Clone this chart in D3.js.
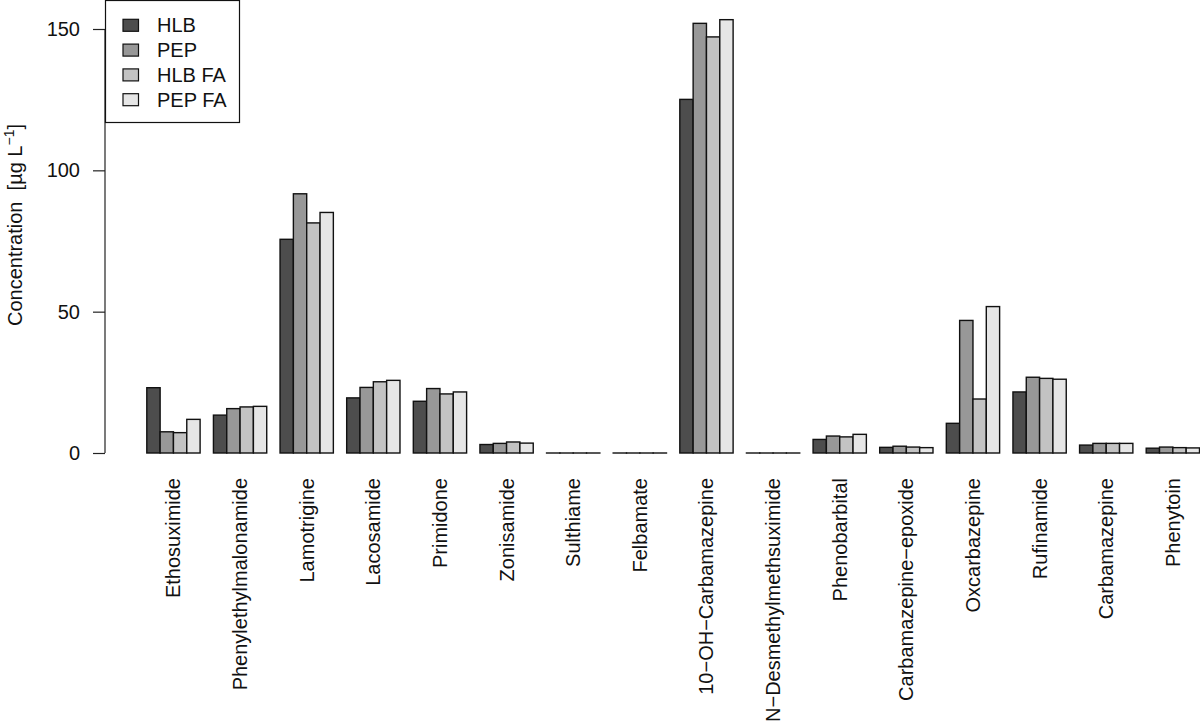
<!DOCTYPE html>
<html>
<head>
<meta charset="utf-8">
<script src="https://cdn.jsdelivr.net/npm/d3@7"></script>
<style>
  body { margin: 0; background: #fff; }
  svg { display: block; font-family: "Liberation Sans", Arial, Helvetica, sans-serif; }
</style>
</head>
<body>
<div id="container"></div>
<script>
/* DATA */
const drugs = ["Ethosuximide", "Phenylethylmalonamide", "Lamotrigine", "Lacosamide", "Primidone",
  "Zonisamide", "Sulthiame", "Felbamate", "10\u2212OH\u2212Carbamazepine", "N\u2212Desmethylmethsuximide",
  "Phenobarbital", "Carbamazepine\u2212epoxide", "Oxcarbazepine", "Rufinamide", "Carbamazepine", "Phenytoin"]

const series = ["HLB", "PEP", "HLB FA", "PEP FA"]

const hlb   = [23.1, 13.4, 75.6, 19.5, 18.3, 3.0, 0, 0, 125.1, 0, 4.8, 2.0, 10.5, 21.6, 2.8, 1.7]
const pep   = [7.5, 15.7, 91.7, 23.2, 22.8, 3.4, 0, 0, 152.0, 0, 6.0, 2.4, 46.9, 26.8, 3.4, 2.1]
const hlbFA = [7.2, 16.3, 81.4, 25.2, 20.9, 3.9, 0, 0, 147.2, 0, 5.7, 2.1, 19.1, 26.4, 3.4, 1.9]
const pepFA = [11.9, 16.5, 85.1, 25.7, 21.6, 3.5, 0, 0, 153.3, 0, 6.6, 1.9, 51.8, 26.1, 3.4, 1.8]

const yTicks = [0, 50, 100, 150]

const colors = ["#4d4d4d", "#989898", "#c3c3c3", "#e6e6e6"]

/* CONSTANTS */
const width = 1200,
  height = 726

const rows = drugs.map((d, i) => ({
  drug: d,
  values: [hlb[i], pep[i], hlbFA[i], pepFA[i]]
}))

/* SCALES */
const xScale = d3.scaleBand()
  .domain(drugs)
  .range([146.8, 1199.5])
  .paddingInner(0.2)
  .paddingOuter(0)

const xInner = d3.scaleBand()
  .domain(series)
  .range([0, xScale.bandwidth()])

const yScale = d3.scaleLinear()
  .domain([0, 150])
  .range([453, 29])

const colorScale = d3.scaleOrdinal()
  .domain(series)
  .range(colors)

/* SVG */
const svg = d3.select("#container")
  .append("svg")
  .attr("width", width)
  .attr("height", height)

// bars (zero values still get an outline, drawn as a flat line like R does)
const groups = svg.selectAll("g.group")
  .data(rows)
  .join("g")
  .attr("class", "group")
  .attr("transform", d => `translate(${xScale(d.drug)},0)`)

groups.selectAll("rect")
  .data(d => d.values.map((v, j) => ({ key: series[j], value: v })))
  .join("rect")
  .attr("x", d => xInner(d.key))
  .attr("y", d => yScale(d.value))
  .attr("width", xInner.bandwidth())
  .attr("height", d => Math.max(0.01, yScale(0) - yScale(d.value)))
  .attr("fill", d => colorScale(d.key))
  .attr("stroke", "#111")
  .attr("stroke-width", 1.4)

// x labels, rotated
svg.append("g")
  .selectAll("text")
  .data(drugs)
  .join("text")
  .attr("transform", d => `translate(${xScale(d) + xScale.bandwidth() / 2 + 7},478) rotate(-90)`)
  .attr("text-anchor", "end")
  .attr("font-size", 20)
  .attr("fill", "#111")
  .text(d => d)

// y axis
const yAxis = d3.axisLeft(yScale)
  .tickValues(yTicks)
  .tickSize(12)
  .tickPadding(13)

const yG = svg.append("g")
  .attr("transform", "translate(105,0)")
  .call(yAxis)

yG.select(".domain").attr("d", `M0,${yScale(0)}V${yScale(150)}`).attr("stroke", "#222").attr("stroke-width", 1.2)
yG.selectAll(".tick line").attr("stroke", "#222").attr("stroke-width", 1.2)
yG.selectAll(".tick text")
  .attr("font-size", 20)
  .attr("font-family", "Liberation Sans, Arial, sans-serif")
  .attr("fill", "#111")

// y label
const yLab = svg.append("text")
  .attr("transform", "translate(22,225) rotate(-90)")
  .attr("text-anchor", "middle")
  .attr("font-size", 20)
  .attr("fill", "#111")
yLab.append("tspan").text("Concentration\u00a0\u00a0[\u00b5g L")
yLab.append("tspan").attr("dy", -8).attr("font-size", 14).text("\u22121")
yLab.append("tspan").attr("dy", 8).text("]")

// legend
const legend = svg.append("g")

legend.append("rect")
  .attr("x", 105.5)
  .attr("y", 0.5)
  .attr("width", 134)
  .attr("height", 122)
  .attr("fill", "#fff")
  .attr("stroke", "#111")
  .attr("stroke-width", 1.2)

const items = legend.selectAll("g.item")
  .data(series)
  .join("g")
  .attr("class", "item")
  .attr("transform", (d, i) => `translate(0,${25.3 + i * 24.8})`)

items.append("rect")
  .attr("x", 123)
  .attr("y", -6)
  .attr("width", 15.5)
  .attr("height", 12)
  .attr("fill", d => colorScale(d))
  .attr("stroke", "#111")
  .attr("stroke-width", 1.2)

items.append("text")
  .attr("x", 157)
  .attr("y", 7)
  .attr("font-size", 20)
  .attr("fill", "#111")
  .text(d => d)
</script>
</body>
</html>
